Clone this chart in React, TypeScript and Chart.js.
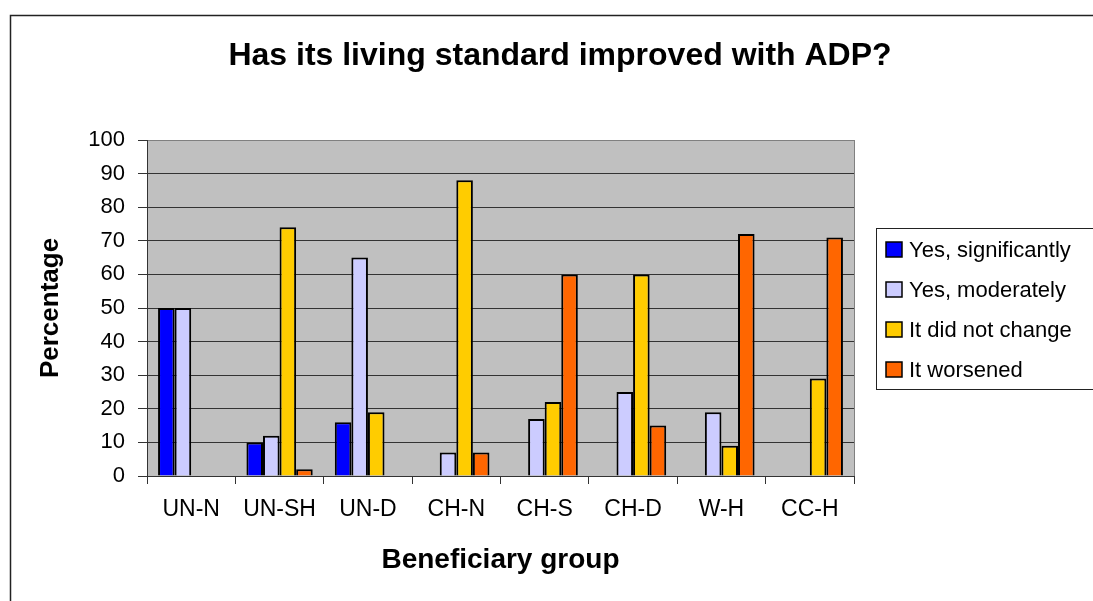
import React, { useEffect, useRef } from "react";
import { Chart, registerables } from "chart.js";

Chart.register(...registerables);

const chartTitle = "Has its living standard improved with ADP?";
const xAxisTitle = "Beneficiary group";
const yAxisTitle = "Percentage";
const categories = ["UN-N", "UN-SH", "UN-D", "CH-N", "CH-S", "CH-D", "W-H", "CC-H"];
const seriesLabels = ["Yes, significantly", "Yes, moderately", "It did not change", "It worsened"];
const seriesColors = ["#0000FF", "#CCCCFF", "#FFCC00", "#FF6600"];
const yesSignificantly = [50, 10, 16, null, null, null, null, null];
const yesModerately = [50, 12, 65, 7, 17, 25, 19, null];
const didNotChange = [null, 74, 19, 88, 22, 60, 9, 29];
const worsened = [null, 2, null, 7, 60, 15, 72, 71];

const FONT = '"Liberation Sans", Arial, sans-serif';

const decorPlugin = {
  id: "decor",
  beforeDraw(chart: any) {
    const { ctx, chartArea } = chart;
    ctx.save();
    ctx.fillStyle = "#FFFFFF";
    ctx.fillRect(0, 0, chart.width, chart.height);
    ctx.fillStyle = "#C0C0C0";
    ctx.fillRect(chartArea.left, chartArea.top, chartArea.right - chartArea.left, chartArea.bottom - chartArea.top);
    ctx.strokeStyle = "#808080";
    ctx.lineWidth = 1;
    ctx.beginPath();
    ctx.moveTo(Math.round(chartArea.right) + 0.5, chartArea.top);
    ctx.lineTo(Math.round(chartArea.right) + 0.5, chartArea.bottom);
    ctx.stroke();
    ctx.restore();
  },
  afterDraw(chart: any) {
    const { ctx } = chart;
    ctx.save();
    // outer frame
    ctx.strokeStyle = "#222";
    ctx.lineWidth = 1.5;
    ctx.strokeRect(10.5, 15.5, 1400, 1000);
    // title
    ctx.fillStyle = "#000";
    ctx.font = `bold 32px ${FONT}`;
    ctx.textAlign = "center";
    ctx.textBaseline = "middle";
    ctx.fillText(chartTitle, 560, 56);
    // legend
    ctx.strokeStyle = "#222";
    ctx.lineWidth = 1;
    ctx.strokeRect(876.5, 228.5, 400, 161);
    ctx.font = `22px ${FONT}`;
    ctx.textAlign = "left";
    chart.data.datasets.forEach((ds: any, i: number) => {
      const cy = 249.5 + i * 40;
      ctx.fillStyle = ds.backgroundColor;
      ctx.fillRect(886, cy - 7.5, 16, 15);
      ctx.strokeStyle = "#000";
      ctx.lineWidth = 1.5;
      ctx.strokeRect(886, cy - 7.5, 16, 15);
      ctx.fillStyle = "#000";
      ctx.fillText(ds.label, 909, cy + 1);
    });
    ctx.restore();
  },
};

export default function App() {
  const ref = useRef<HTMLCanvasElement>(null);
  useEffect(() => {
    if (!ref.current) return;
    const seriesData = [yesSignificantly, yesModerately, didNotChange, worsened];
    const chart = new Chart(ref.current, {
      type: "bar",
      data: {
        labels: categories,
        datasets: seriesData.map((d, i) => ({
          label: seriesLabels[i],
          data: d,
          backgroundColor: seriesColors[i],
          borderColor: "#000000",
          borderWidth: 2,
          categoryPercentage: 0.75,
          barPercentage: 1,
        })),
      },
      options: {
        responsive: false,
        animation: false,
        layout: { padding: { top: 140, right: 239, bottom: 0, left: 0 } },
        plugins: {
          legend: { display: false },
          title: { display: false },
          tooltip: { enabled: false },
        },
        scales: {
          x: {
            afterFit: (s: any) => { s.height = 125; },
            grid: {
              display: true,
              drawOnChartArea: false,
              drawTicks: true,
              tickLength: 8,
              color: "#333",
              offset: true,
            },
            border: { display: true, color: "#333", width: 1 },
            ticks: { color: "#000", font: { family: FONT, size: 23 }, padding: 12, maxRotation: 0 },
            title: {
              display: true,
              text: xAxisTitle,
              color: "#000",
              font: { family: FONT, size: 28, weight: "bold" },
              padding: { top: 0, bottom: 24 },
            },
          },
          y: {
            min: 0,
            max: 100,
            afterFit: (s: any) => { s.width = 147; },
            grid: {
              color: (c: any) => (c.tick && c.tick.value === 100 ? "#808080" : "#333"),
              tickColor: "#333",
              tickLength: 9,
              lineWidth: 1,
            },
            border: { display: true, color: "#333", width: 1 },
            ticks: { stepSize: 10, color: "#000", font: { family: FONT, size: 22 }, padding: 13 },
            title: {
              display: true,
              text: yAxisTitle,
              color: "#000",
              font: { family: FONT, size: 26, weight: "bold" },
              padding: { top: 35, bottom: 0 },
            },
          },
        },
      },
      plugins: [decorPlugin],
    });
    return () => chart.destroy();
  }, []);
  return (
    <div style={{ position: "absolute", left: 0, top: 0, width: 1093, height: 601 }}>
      <canvas ref={ref} width={1093} height={601} />
    </div>
  );
}
